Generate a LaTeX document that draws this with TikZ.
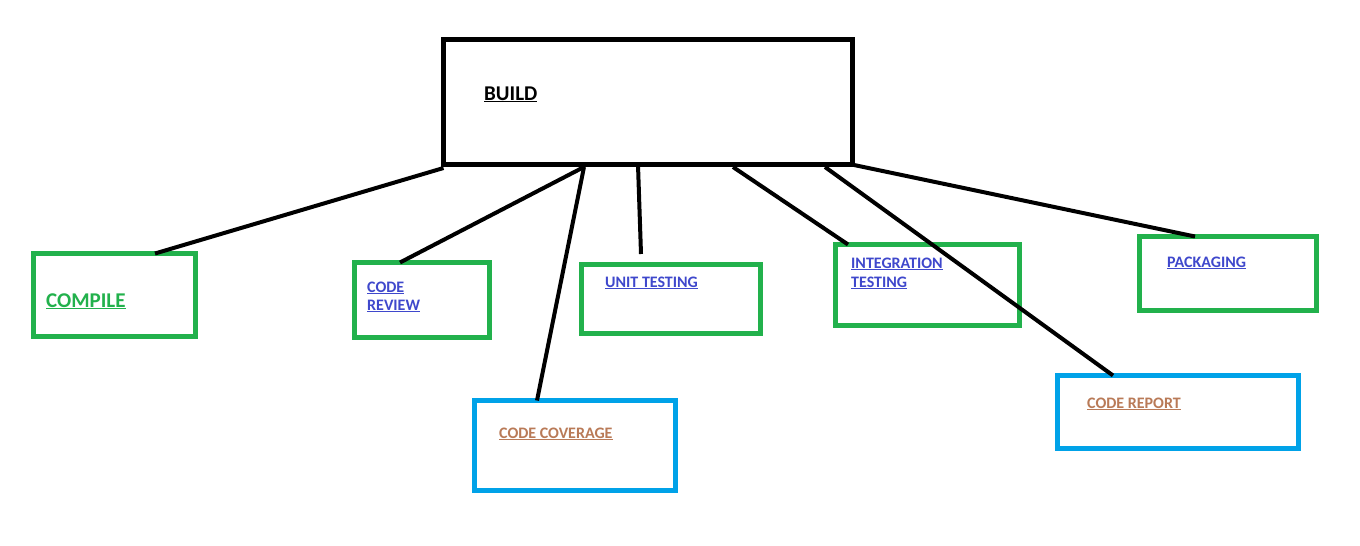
\documentclass[tikz,border=0pt]{standalone}
\usepackage{fontspec}
\setmainfont{Carlito}
\usetikzlibrary{calc}
\definecolor{pgreen}{HTML}{22B14C}
\definecolor{pcyan}{HTML}{00A2E8}
\definecolor{pblue}{HTML}{3F48CC}
\definecolor{pbrown}{HTML}{B97A57}
\begin{document}
\begin{tikzpicture}[x=1pt,y=-1pt,
  box/.style={draw, line width=5pt, inner sep=0pt, outer sep=0pt, rectangle},
  gbox/.style={box, draw=pgreen},
  cbox/.style={box, draw=pcyan},
  conn/.style={draw=black, line width=4pt},
  lbl/.style={anchor=base west, inner sep=0pt, font=\bfseries\fontsize{16}{18.5}\selectfont, align=left},
  blbl/.style={lbl, text=pblue},
  rlbl/.style={lbl, text=pbrown}]
\useasboundingbox (0,0) rectangle (1360,546);
\fill[white] (0,0) rectangle (1360,546);
% boxes
\node[box, minimum width=408.5pt, minimum height=124.5pt] (build) at (647.75,101.75) {};
\node[gbox, minimum width=161.5pt, minimum height=82.5pt] (compile) at (114.25,294.75) {};
\node[gbox, minimum width=135pt, minimum height=75pt] (review) at (422,300) {};
\node[gbox, minimum width=178.5pt, minimum height=69pt] (unit) at (670.75,299) {};
\node[gbox, minimum width=184pt, minimum height=81pt] (integ) at (927.5,285) {};
\node[gbox, minimum width=177pt, minimum height=74pt] (pack) at (1228,273.5) {};
\node[cbox, minimum width=201pt, minimum height=90pt] (cover) at (575,445.5) {};
\node[cbox, minimum width=241pt, minimum height=73pt] (report) at (1178,412) {};
% labels
\node[lbl, font=\bfseries\fontsize{21}{25}\selectfont] (tbuild) at (484,100) {\underline{BUILD}};
\node[lbl, text=pgreen, font=\bfseries\fontsize{21}{25}\selectfont] (tcompile) at (46,307) {\underline{COMPILE}};
\node[blbl, font=\bfseries\fontsize{16}{18}\selectfont] (treview) at (367,310) {\underline{CODE}\\\underline{REVIEW}};
\node[blbl] (tunit) at (605,287) {\underline{UNIT TESTING}};
\node[blbl, font=\bfseries\fontsize{16}{19}\selectfont] (tinteg) at (851,287) {\underline{INTEGRATION}\\\underline{TESTING}};
\node[blbl] (tpack) at (1167,267) {\underline{PACKAGING}};
\node[rlbl] (tcover) at (499,438) {\underline{CODE COVERAGE}};
\node[rlbl] (treport) at (1087,408) {\underline{CODE REPORT}};
% connectors
\coordinate (unitend) at (641,254);
\draw[conn] ([shift={(0,4)}]build.south west) -- ([xshift=121.5pt]compile.north west);
\draw[conn] ([shift={(140.5,3)}]build.south west) -- ([xshift=45.5pt]review.north west);
\draw[conn] ([shift={(140.5,3)}]build.south west) -- ([xshift=62.5pt]cover.north west);
\draw[conn] ([shift={(194.5,1)}]build.south west) -- (unitend);
\draw[conn] ([shift={(289.5,3)}]build.south west) -- ([xshift=12.5pt]integ.north west);
\draw[conn] ([shift={(381.5,3)}]build.south west) -- ([xshift=55.5pt]report.north west);
\draw[conn] ([shift={(2,1)}]build.south east) -- ([xshift=55.5pt]pack.north west);
\end{tikzpicture}
\end{document}
